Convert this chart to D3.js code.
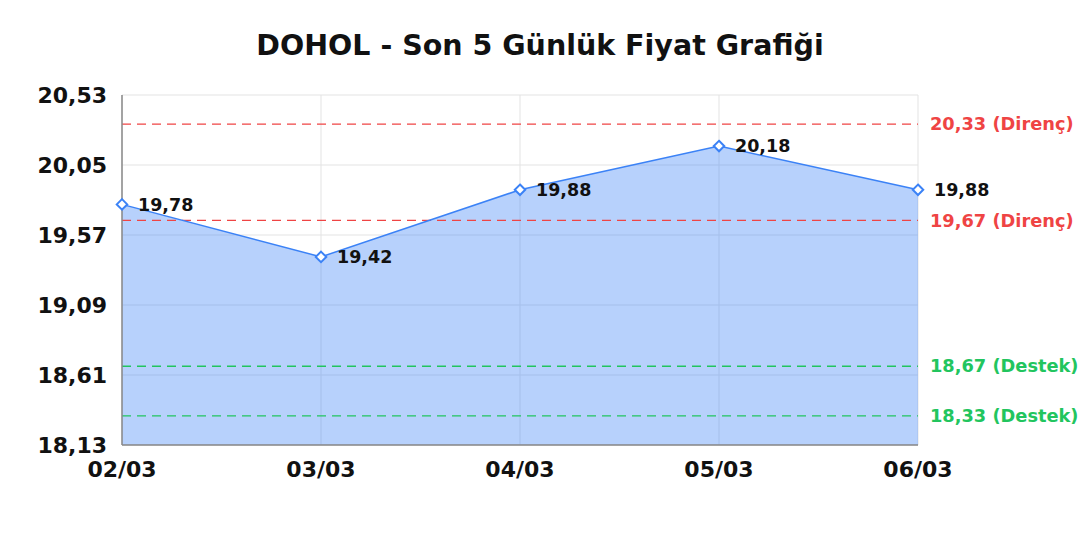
<!DOCTYPE html>
<html>
<head>
<meta charset="utf-8">
<script src="https://cdn.jsdelivr.net/npm/d3@7"></script>
<style>
  body { margin: 0; background: #fff; }
  text { font-family: "DejaVu Sans", sans-serif; font-weight: bold; }
</style>
</head>
<body>
<div id="chart"></div>
<script>
const dates = ['02/03', '03/03', '04/03', '05/03', '06/03']
const prices = [19.78, 19.42, 19.88, 20.18, 19.88]
const yTicks = [18.13, 18.61, 19.09, 19.57, 20.05, 20.53]
const resistance = [20.33, 19.67]
const support = [18.67, 18.33]

const W = 1080, H = 540
const margin = { top: 95, right: 162, bottom: 95, left: 122 }
const width = W - margin.left - margin.right
const height = H - margin.top - margin.bottom
const fmt = v => v.toFixed(2).replace('.', ',')

const svg = d3.select('#chart').append('svg')
  .attr('width', W).attr('height', H)

svg.append('text')
  .attr('x', W / 2).attr('y', 55)
  .attr('text-anchor', 'middle')
  .attr('font-size', 28.5)
  .attr('fill', '#111')
  .text('DOHOL - Son 5 Günlük Fiyat Grafiği')

const g = svg.append('g')
  .attr('transform', 'translate(' + margin.left + ',' + margin.top + ')')

const x = d3.scalePoint().domain(dates).range([0, width])
const y = d3.scaleLinear().domain([18.13, 20.53]).range([height, 0])

// grid
g.append('g').selectAll('line').data(yTicks).enter().append('line')
  .attr('x1', 0).attr('x2', width)
  .attr('y1', d => y(d)).attr('y2', d => y(d))
  .attr('stroke', '#e3e3e3').attr('stroke-width', 1)
g.append('g').selectAll('line').data(dates).enter().append('line')
  .attr('x1', d => x(d)).attr('x2', d => x(d))
  .attr('y1', 0).attr('y2', height)
  .attr('stroke', '#e3e3e3').attr('stroke-width', 1)

const pts = dates.map((d, i) => ({ d, v: prices[i] }))

// area
g.append('path').datum(pts)
  .attr('fill', 'rgba(59,130,246,0.37)')
  .attr('d', d3.area().x(p => x(p.d)).y0(height).y1(p => y(p.v)))

// reference lines
const refs = resistance.map(v => ({ v, label: fmt(v) + ' (Direnç)', c: '#ef4444' }))
  .concat(support.map(v => ({ v, label: fmt(v) + ' (Destek)', c: '#22c55e' })))
g.append('g').selectAll('line').data(refs).enter().append('line')
  .attr('x1', 0).attr('x2', width)
  .attr('y1', d => y(d.v)).attr('y2', d => y(d.v))
  .attr('stroke', d => d.c).attr('stroke-width', 1.3)
  .attr('stroke-dasharray', '9,6')
g.append('g').selectAll('text').data(refs).enter().append('text')
  .attr('x', width + 12).attr('y', d => y(d.v))
  .attr('dy', '0.35em')
  .attr('font-size', 17.8)
  .attr('fill', d => d.c)
  .text(d => d.label)

// axes
g.append('line').attr('x1', 0).attr('x2', 0).attr('y1', 0).attr('y2', height)
  .attr('stroke', '#888').attr('stroke-width', 1.5)
g.append('line').attr('x1', 0).attr('x2', width).attr('y1', height).attr('y2', height)
  .attr('stroke', '#888').attr('stroke-width', 1.5)

g.append('g').selectAll('text').data(yTicks).enter().append('text')
  .attr('x', -15).attr('y', d => y(d))
  .attr('dy', '0.35em')
  .attr('text-anchor', 'end')
  .attr('font-size', 22)
  .attr('fill', '#111')
  .text(fmt)
g.append('g').selectAll('text').data(dates).enter().append('text')
  .attr('x', d => x(d)).attr('y', height + 32)
  .attr('text-anchor', 'middle')
  .attr('font-size', 22)
  .attr('fill', '#111')
  .text(d => d)

// line + markers
g.append('path').datum(pts)
  .attr('fill', 'none').attr('stroke', '#3b82f6').attr('stroke-width', 1.5)
  .attr('d', d3.line().x(p => x(p.d)).y(p => y(p.v)))
g.append('g').selectAll('path').data(pts).enter().append('path')
  .attr('transform', p => 'translate(' + x(p.d) + ',' + y(p.v) + ')')
  .attr('d', d3.symbol(d3.symbolDiamond2, 70))
  .attr('fill', '#fff').attr('stroke', '#3b82f6').attr('stroke-width', 2)
g.append('g').selectAll('text').data(pts).enter().append('text')
  .attr('x', p => x(p.d) + 16).attr('y', p => y(p.v))
  .attr('dy', '0.35em')
  .attr('font-size', 17.5)
  .attr('fill', '#111')
  .text(p => fmt(p.v))
</script>
</body>
</html>
